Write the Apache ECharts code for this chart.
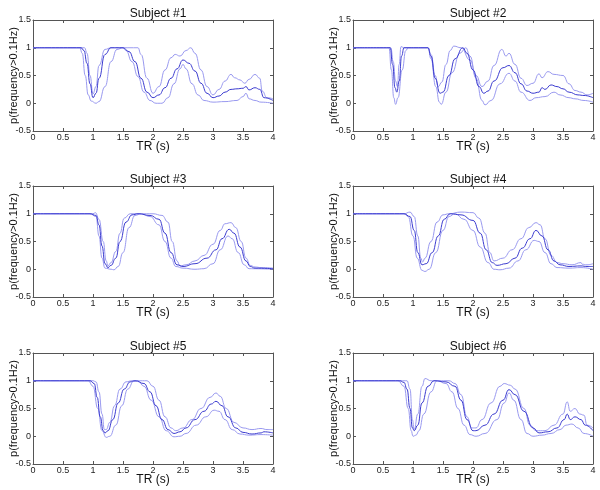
<!DOCTYPE html>
<html>
<head>
<meta charset="utf-8">
<script src="https://cdn.jsdelivr.net/npm/echarts@6/dist/echarts.min.js"></script>
<style>html,body{margin:0;padding:0;background:#fff}#c{width:600px;height:490px}</style>
</head>
<body>
<div id="c"></div>
<script>
// x tick labels and y tick labels
var xTicks = [0, 0.5, 1, 1.5, 2, 2.5, 3, 3.5, 4];
var yTicks = [-0.5, 0, 0.5, 1, 1.5];
var titles = ['Subject #1','Subject #2','Subject #3','Subject #4','Subject #5','Subject #6'];

// Subject 1
var s1Mean = [[0,1],[0.8,1],[0.85,0.95],[0.9,0.72],[0.95,0.35],[1.0,0.1],[1.05,0.18],[1.1,0.45],[1.2,0.88],[1.3,1],[1.5,1],[1.6,0.93],[1.7,0.75],[1.8,0.45],[1.9,0.2],[2.0,0.1],[2.1,0.15],[2.2,0.28],[2.3,0.45],[2.4,0.62],[2.5,0.78],[2.6,0.72],[2.7,0.58],[2.8,0.36],[2.9,0.18],[3.0,0.1],[3.1,0.13],[3.2,0.2],[3.3,0.25],[3.4,0.26],[3.5,0.27],[3.55,0.3],[3.6,0.24],[3.7,0.28],[3.78,0.25],[3.85,0.1],[4,0.05]];
var s1Upper = [[0,1],[0.86,1],[0.9,0.9],[0.95,0.5],[1.0,0.17],[1.05,0.3],[1.1,0.68],[1.2,0.97],[1.3,1],[1.75,1],[1.8,0.88],[1.9,0.45],[2.0,0.18],[2.1,0.3],[2.2,0.6],[2.3,0.82],[2.37,0.88],[2.45,0.85],[2.55,0.95],[2.63,1.0],[2.7,0.9],[2.8,0.6],[2.9,0.3],[3.0,0.15],[3.1,0.25],[3.2,0.4],[3.3,0.52],[3.36,0.46],[3.45,0.42],[3.53,0.36],[3.6,0.43],[3.7,0.52],[3.78,0.45],[3.82,0.22],[3.9,0.1],[4,0.08]];
var s1Lower = [[0,1],[0.78,1],[0.82,0.9],[0.87,0.5],[0.92,0.15],[0.97,0.04],[1.05,0],[1.1,0.03],[1.2,0.3],[1.3,0.75],[1.4,0.97],[1.5,1],[1.55,0.95],[1.65,0.75],[1.75,0.48],[1.85,0.2],[1.95,0.05],[2.05,0],[2.15,0],[2.25,0.1],[2.35,0.35],[2.45,0.62],[2.5,0.7],[2.55,0.62],[2.65,0.35],[2.75,0.15],[2.85,0.05],[3.0,0.02],[3.2,0.03],[3.4,0.05],[3.5,0.12],[3.55,0.18],[3.6,0.08],[3.7,0.05],[3.8,0.02],[4,0]];

// Subject 2
var s2Mean = [[0,1],[0.62,1],[0.66,0.7],[0.7,0.28],[0.73,0.2],[0.77,0.4],[0.81,0.85],[0.85,1],[1.25,1],[1.3,0.85],[1.37,0.45],[1.45,0.18],[1.5,0.2],[1.6,0.5],[1.7,0.8],[1.83,1],[1.9,0.9],[2.0,0.6],[2.1,0.3],[2.18,0.18],[2.25,0.22],[2.35,0.4],[2.5,0.64],[2.6,0.68],[2.7,0.55],[2.8,0.35],[2.9,0.22],[3.0,0.18],[3.1,0.2],[3.15,0.28],[3.2,0.25],[3.3,0.33],[3.4,0.3],[3.5,0.26],[3.6,0.2],[3.75,0.15],[3.85,0.14],[4,0.1]];
var s2Upper = [[0,1],[0.63,1],[0.67,0.75],[0.71,0.4],[0.74,0.3],[0.77,0.7],[0.8,1.02],[0.85,1],[1.25,1],[1.3,0.88],[1.37,0.5],[1.42,0.3],[1.48,0.38],[1.55,0.7],[1.62,0.95],[1.68,1.03],[1.8,1.0],[1.95,0.78],[2.05,0.5],[2.15,0.3],[2.25,0.4],[2.35,0.68],[2.48,0.97],[2.55,0.85],[2.6,0.9],[2.7,0.7],[2.8,0.45],[2.9,0.32],[3.0,0.36],[3.1,0.53],[3.15,0.46],[3.25,0.57],[3.35,0.52],[3.5,0.5],[3.6,0.35],[3.7,0.23],[3.8,0.2],[3.9,0.15],[4,0.18]];
var s2Lower = [[0,1],[0.6,1],[0.64,0.6],[0.68,0.1],[0.71,-0.02],[0.75,0.1],[0.82,0.6],[0.88,0.95],[0.92,1],[1.25,1],[1.3,0.8],[1.38,0.3],[1.44,0.02],[1.47,-0.02],[1.55,0.2],[1.65,0.55],[1.78,0.9],[1.88,1.0],[1.95,0.85],[2.05,0.45],[2.15,0.05],[2.2,-0.03],[2.3,0.05],[2.45,0.35],[2.6,0.54],[2.7,0.4],[2.8,0.2],[2.95,0.05],[3.05,0.1],[3.2,0.12],[3.35,0.2],[3.45,0.15],[3.6,0.1],[3.7,0.08],[3.85,0.05],[4,0.02]];

// Subject 3
var s3Mean = [[0,1],[0.95,1],[1.05,0.97],[1.1,0.8],[1.15,0.42],[1.2,0.1],[1.25,0.03],[1.3,0.07],[1.38,0.2],[1.45,0.5],[1.55,0.85],[1.65,0.98],[1.75,1],[1.95,0.97],[2.1,0.9],[2.2,0.65],[2.3,0.3],[2.4,0.08],[2.5,0.05],[2.7,0.1],[2.9,0.2],[3.05,0.35],[3.15,0.55],[3.27,0.72],[3.35,0.65],[3.45,0.4],[3.55,0.15],[3.62,0.05],[3.7,0.02],[4,0.01]];
var s3Upper = [[0,1],[1.0,1],[1.04,1.02],[1.1,0.9],[1.17,0.5],[1.22,0.15],[1.25,0.06],[1.3,0.12],[1.38,0.32],[1.45,0.65],[1.52,0.92],[1.62,1],[2.0,1.0],[2.15,0.97],[2.25,0.85],[2.32,0.5],[2.4,0.15],[2.45,0.06],[2.55,0.08],[2.7,0.15],[2.85,0.25],[3.0,0.45],[3.12,0.7],[3.2,0.82],[3.3,0.84],[3.38,0.75],[3.47,0.5],[3.55,0.2],[3.62,0.07],[3.7,0.04],[3.8,0.03],[4,0.02]];
var s3Lower = [[0,1],[0.95,1],[1.05,0.95],[1.1,0.6],[1.15,0.2],[1.2,0.02],[1.3,0],[1.35,-0.01],[1.42,0.05],[1.5,0.3],[1.6,0.75],[1.7,0.97],[1.8,1],[1.95,0.95],[2.1,0.8],[2.2,0.5],[2.3,0.2],[2.38,0.05],[2.5,0.02],[2.7,0],[2.85,0.01],[3.0,0.1],[3.12,0.35],[3.25,0.6],[3.32,0.55],[3.42,0.3],[3.52,0.08],[3.6,0.01],[4,0]];

// Subject 4
var s4Mean = [[0,1],[0.85,1],[0.95,0.95],[1.02,0.7],[1.08,0.3],[1.15,0.08],[1.22,0.1],[1.32,0.3],[1.42,0.6],[1.52,0.9],[1.62,1.0],[1.8,0.98],[2.0,0.88],[2.12,0.65],[2.22,0.35],[2.32,0.12],[2.4,0.07],[2.55,0.1],[2.7,0.2],[2.82,0.38],[2.95,0.55],[3.05,0.7],[3.15,0.6],[3.25,0.35],[3.35,0.15],[3.45,0.08],[3.6,0.05],[3.8,0.06],[3.9,0.05],[4,0.05]];
var s4Upper = [[0,1],[0.85,1],[0.95,1.03],[1.02,0.95],[1.08,0.6],[1.13,0.2],[1.16,0.13],[1.2,0.2],[1.3,0.5],[1.4,0.85],[1.5,0.98],[1.6,1.0],[1.8,1.03],[2.0,1.02],[2.1,0.92],[2.2,0.65],[2.28,0.3],[2.35,0.15],[2.5,0.2],[2.65,0.35],[2.8,0.55],[2.93,0.75],[3.05,0.84],[3.12,0.8],[3.2,0.55],[3.3,0.25],[3.4,0.12],[3.5,0.1],[3.65,0.08],[3.8,0.12],[3.82,0.09],[3.9,0.08],[4,0.1]];
var s4Lower = [[0,1],[0.85,1],[0.92,0.95],[1.0,0.6],[1.07,0.2],[1.15,-0.02],[1.2,-0.04],[1.27,0],[1.38,0.3],[1.5,0.7],[1.6,0.95],[1.7,1.0],[1.85,0.9],[2.0,0.7],[2.12,0.4],[2.25,0.12],[2.35,0],[2.45,-0.01],[2.6,0.02],[2.75,0.15],[2.88,0.35],[3.02,0.52],[3.1,0.5],[3.2,0.3],[3.3,0.1],[3.4,0.03],[3.6,0.02],[3.8,0.03],[4,0]];

// Subject 5
var s5Mean = [[0,1],[0.95,1],[1.02,0.95],[1.07,0.7],[1.12,0.35],[1.17,0.1],[1.2,0.06],[1.25,0.1],[1.33,0.3],[1.42,0.6],[1.52,0.85],[1.62,0.98],[1.7,1.0],[1.85,0.95],[1.95,0.8],[2.05,0.55],[2.15,0.3],[2.25,0.12],[2.35,0.05],[2.45,0.08],[2.55,0.15],[2.7,0.3],[2.85,0.45],[2.97,0.58],[3.05,0.63],[3.15,0.55],[3.25,0.35],[3.38,0.15],[3.5,0.07],[3.65,0.04],[3.8,0.06],[3.85,0.08],[4,0.06]];
var s5Upper = [[0,1],[1.0,1],[1.05,0.98],[1.1,0.8],[1.15,0.4],[1.19,0.12],[1.22,0.12],[1.28,0.25],[1.36,0.55],[1.45,0.85],[1.55,0.98],[1.65,1.0],[1.9,1.0],[2.0,0.9],[2.1,0.65],[2.2,0.35],[2.3,0.15],[2.38,0.1],[2.5,0.15],[2.65,0.3],[2.8,0.5],[2.95,0.7],[3.05,0.78],[3.12,0.72],[3.22,0.5],[3.35,0.25],[3.5,0.15],[3.65,0.12],[3.8,0.14],[3.9,0.12],[4,0.12]];
var s5Lower = [[0,1],[0.92,1],[1.0,0.9],[1.08,0.5],[1.15,0.1],[1.22,-0.02],[1.28,0],[1.38,0.2],[1.48,0.55],[1.58,0.85],[1.68,0.99],[1.75,1.0],[1.85,0.9],[1.97,0.65],[2.1,0.35],[2.22,0.1],[2.35,-0.01],[2.45,0],[2.55,0.05],[2.72,0.2],[2.88,0.35],[3.02,0.47],[3.1,0.45],[3.2,0.3],[3.32,0.12],[3.45,0.04],[3.6,0.02],[3.8,0.03],[4,0.02]];

// Subject 6
var s6Mean = [[0,1],[0.78,1],[0.85,0.97],[0.9,0.85],[0.95,0.5],[0.99,0.15],[1.02,0.1],[1.08,0.2],[1.15,0.6],[1.25,0.9],[1.35,1.0],[1.55,0.98],[1.7,0.9],[1.8,0.65],[1.9,0.3],[2.0,0.1],[2.05,0.1],[2.2,0.2],[2.35,0.4],[2.5,0.65],[2.6,0.84],[2.7,0.75],[2.85,0.45],[3.0,0.15],[3.1,0.06],[3.25,0.08],[3.4,0.15],[3.52,0.3],[3.57,0.4],[3.62,0.3],[3.7,0.35],[3.8,0.3],[3.87,0.2],[4,0.1]];
var s6Upper = [[0,1],[0.8,1],[0.9,1.0],[0.95,0.85],[0.99,0.3],[1.02,0.12],[1.08,0.4],[1.15,0.9],[1.2,1.04],[1.3,1.0],[1.6,1.0],[1.7,0.95],[1.8,0.75],[1.9,0.35],[1.98,0.15],[2.05,0.15],[2.15,0.3],[2.3,0.6],[2.45,0.9],[2.52,0.95],[2.62,0.92],[2.7,0.85],[2.85,0.5],[2.95,0.2],[3.05,0.1],[3.2,0.1],[3.35,0.2],[3.5,0.4],[3.57,0.62],[3.62,0.45],[3.7,0.5],[3.78,0.4],[3.85,0.38],[3.9,0.2],[4,0.15]];
var s6Lower = [[0,1],[0.75,1],[0.85,0.9],[0.92,0.5],[0.97,0.1],[1.0,0],[1.05,0.02],[1.1,0.1],[1.18,0.4],[1.3,0.8],[1.4,1.0],[1.55,0.95],[1.65,0.8],[1.75,0.5],[1.85,0.2],[1.95,0.03],[2.05,0],[2.2,0.05],[2.4,0.3],[2.52,0.6],[2.6,0.78],[2.68,0.65],[2.8,0.3],[2.9,0.05],[3.0,0],[3.15,0.02],[3.3,0.05],[3.45,0.12],[3.55,0.2],[3.65,0.22],[3.75,0.15],[3.85,0.05],[4,0]];

var subjects = [
  [s1Mean, s1Upper, s1Lower],
  [s2Mean, s2Upper, s2Lower],
  [s3Mean, s3Upper, s3Lower],
  [s4Mean, s4Upper, s4Lower],
  [s5Mean, s5Upper, s5Lower],
  [s6Mean, s6Upper, s6Lower]
];

var lefts = [33, 353];
var tops = [20, 186, 353];
var W = 240, H = 111;
var FONT = 'Liberation Sans';
var axisCol = '#555';

var grids = [], xAxes = [], yAxes = [], series = [], titleArr = [];
for (var i = 0; i < 6; i++) {
  var L = lefts[i % 2], T = tops[Math.floor(i / 2)];
  grids.push({left: L, top: T, width: W, height: H, containLabel: false});
  titleArr.push({
    text: titles[i], left: L + W / 2, top: T - 17, textAlign: 'center',
    textStyle: {fontFamily: FONT, fontSize: 12, fontWeight: 'normal', color: '#111'}
  });
  var common = {
    type: 'value', gridIndex: i, splitLine: {show: false},
    axisLine: {show: true, onZero: false, lineStyle: {color: axisCol, width: 1}},
    axisTick: {show: true, inside: true, length: 3, lineStyle: {color: axisCol}}
  };
  xAxes.push(Object.assign({}, common, {
    position: 'bottom', min: xTicks[0], max: xTicks[xTicks.length - 1], interval: 0.5,
    axisLabel: {show: true, margin: 2, fontFamily: FONT, fontSize: 9, color: '#222'},
    name: 'TR (s)', nameLocation: 'middle', nameGap: 10, nameMoveOverlap: false,
    nameTextStyle: {fontFamily: FONT, fontSize: 12, color: '#111'}
  }));
  xAxes.push(Object.assign({}, common, {
    position: 'top', min: xTicks[0], max: xTicks[xTicks.length - 1], interval: 0.5,
    axisLabel: {show: false}
  }));
  yAxes.push(Object.assign({}, common, {
    position: 'left', min: yTicks[0], max: yTicks[yTicks.length - 1], interval: 0.5,
    axisLabel: {show: true, margin: 2, fontFamily: FONT, fontSize: 9, color: '#222'},
    name: 'p(frequency>0.1Hz)', nameLocation: 'middle', nameGap: 14, nameMoveOverlap: false,
    nameTextStyle: {fontFamily: FONT, fontSize: 11, color: '#111'}
  }));
  yAxes.push(Object.assign({}, common, {
    position: 'right', min: yTicks[0], max: yTicks[yTicks.length - 1], interval: 0.5,
    axisLabel: {show: false}
  }));
  var d = subjects[i];
  var styles = [
    {data: d[1], color: '#9a9af0'},
    {data: d[2], color: '#9a9af0'},
    {data: d[0], color: '#3c3cd0'}
  ];
  styles.forEach(function (s) {
    series.push({
      type: 'line', xAxisIndex: 2 * i, yAxisIndex: 2 * i, data: s.data,
      showSymbol: false, smooth: 0.5, smoothMonotone: 'x', animation: false,
      lineStyle: {color: s.color, width: 1}, silent: true
    });
  });
}

var chart = echarts.init(document.getElementById('c'));
chart.setOption({
  animation: false,
  backgroundColor: '#fff',
  title: titleArr,
  grid: grids,
  xAxis: xAxes,
  yAxis: yAxes,
  series: series
});
</script>
</body>
</html>
